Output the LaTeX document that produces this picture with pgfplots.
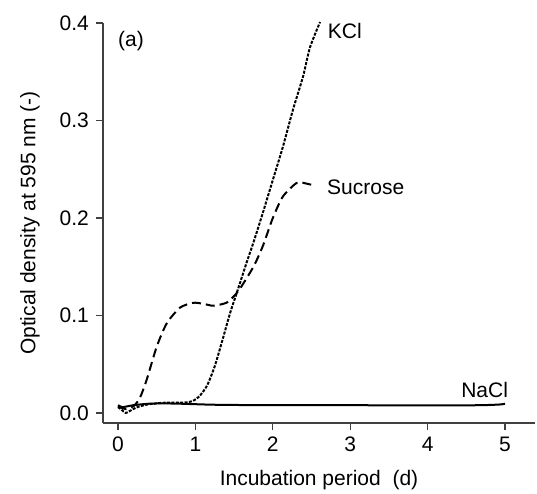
\documentclass[border=0pt]{standalone}
\usepackage{pgfplots}
\pgfplotsset{compat=1.18}
\usepackage{fontspec}
\setmainfont{Liberation Sans}
\begin{document}
\fontsize{21pt}{25pt}\selectfont
\begin{tikzpicture}
\useasboundingbox (-103pt,-70pt) rectangle (434pt,423pt);
\begin{axis}[
  at={(0,0)}, anchor=south west,
  scale only axis, width=432pt, height=400pt,
  xmin=-0.194, xmax=5.387, ymin=-0.0103, ymax=0.4,
  axis x line=bottom, axis y line=left,
  axis line style={-, black!75, line width=1.1pt},
  tick align=outside, major tick length=7pt,
  tick style={black!75, line width=1.1pt},
  xtick={0,1,2,3,4,5}, ytick={0,0.1,0.2,0.3,0.4},
  yticklabel style={/pgf/number format/.cd, fixed, fixed zerofill, precision=1},
  /pgf/number format/assume math mode=true,
  ticklabel style={font=\fontsize{21pt}{25pt}\selectfont},
  label style={font=\fontsize{21pt}{25pt}\selectfont},
  xlabel={Incubation period\ \ (d)},
  ylabel={Optical density at 595 nm (-)},
  xlabel style={at={(axis description cs:0.5,-0.1425)}, anchor=center},
  ylabel style={at={(axis description cs:-0.169,0.5)}, anchor=center},
  clip=false,
]
% NaCl (solid)
\addplot[black, line width=2pt, smooth, tension=0.4] coordinates {
(0,0.008) (0.05,0.006) (0.1,0.0065) (0.2,0.008) (0.4,0.0095) (0.6,0.0098)
(0.8,0.0095) (1.0,0.009) (1.2,0.0085) (1.5,0.0082) (2,0.008) (2.5,0.008)
(3,0.008) (3.5,0.0078) (4,0.0077) (4.5,0.0078) (4.8,0.0082) (4.95,0.0088) (5.0,0.0095)
};
% KCl (fine dashed)
\addplot[black, line width=2pt, dash pattern=on 3pt off 1.4pt, smooth, tension=0.4] coordinates {
(0,0.006) (0.05,0.003) (0.1,0.0) (0.15,0.002) (0.25,0.006) (0.4,0.009)
(0.6,0.0105) (0.8,0.0105) (0.9,0.011) (0.97,0.0125) (1.05,0.017) (1.15,0.028)
(1.25,0.048) (1.35,0.075) (1.45,0.103) (1.55,0.127) (1.66,0.154) (1.75,0.175)
(1.87,0.205) (2.0,0.239) (2.13,0.273) (2.26,0.311) (2.39,0.345) (2.48,0.375) (2.61,0.401)
};
% Sucrose (dashed)
\addplot[black, line width=2pt, dash pattern=on 9pt off 5pt, smooth, tension=0.4] coordinates {
(0,0.007) (0.1,0.004) (0.2,0.007) (0.28,0.015) (0.37,0.034) (0.5,0.068)
(0.63,0.092) (0.8,0.108) (0.97,0.113) (1.1,0.112) (1.23,0.110) (1.4,0.113)
(1.5,0.12) (1.58,0.128) (1.75,0.15) (1.87,0.171) (2.0,0.2) (2.13,0.222)
(2.31,0.236) (2.45,0.235) (2.54,0.233)
};
\node[anchor=west, inner sep=0pt] at (axis cs:0.0,0.381) {(a)};
\node[anchor=west, inner sep=0pt] at (axis cs:2.71,0.392) {KCl};
\node[anchor=west, inner sep=0pt] at (axis cs:2.70,0.231) {Sucrose};
\node[anchor=east, inner sep=0pt] at (axis cs:5.04,0.0236) {NaCl};
\end{axis}
\end{tikzpicture}
\end{document}
